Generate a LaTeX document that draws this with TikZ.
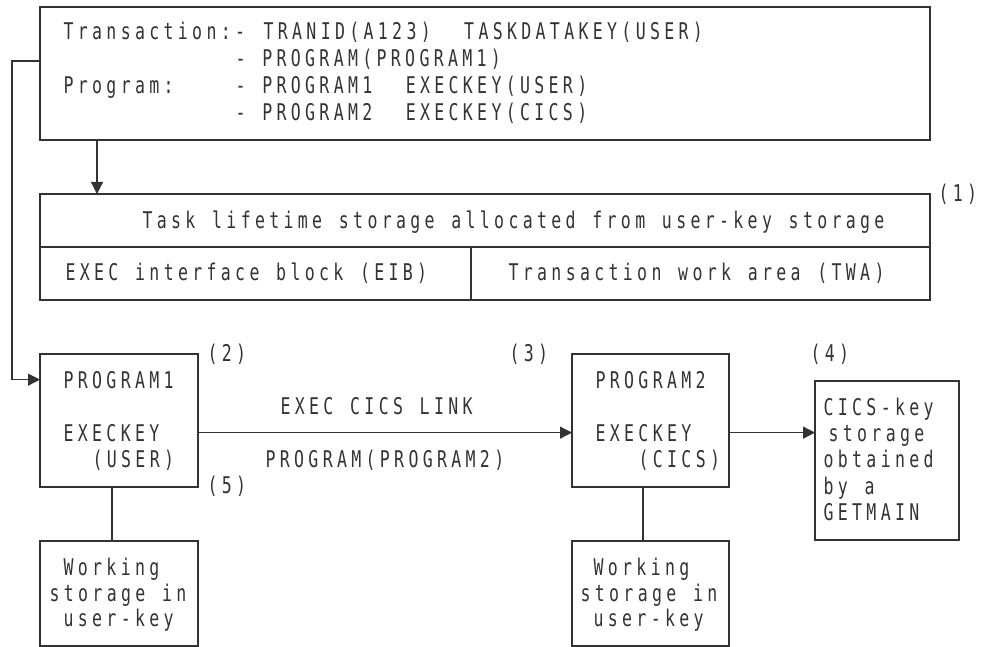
\documentclass[tikz,border=0pt]{standalone}
\usepackage{fontspec}
\usetikzlibrary{arrows.meta}
\newfontfamily\ibmfont[FakeStretch=0.72,LetterSpace=18.8,WordSpace=1.17]{DejaVu Sans Mono}
\newcommand\ibm{\ibmfont\fontsize{23pt}{26pt}\selectfont}
\tikzset{
  box/.style={draw,anchor=north west,inner sep=0pt,outer sep=0pt},
  txt/.style={anchor=base west,inner sep=0pt,font=\ibm},
}
\begin{document}
\begin{tikzpicture}[x=1pt,y=-1pt,line width=1.2pt,color=black!80,>={Triangle[length=12pt,width=12pt]}]
  \useasboundingbox (0,0) rectangle (982,647);
  % boxes
  \node[box,minimum width=890pt,minimum height=133pt] (trans) at (40,7) {};
  \node[box,minimum width=890pt,minimum height=53pt] (task) at (40,194) {};
  \node[box,minimum width=431pt,minimum height=53pt] (eib) at (40,247) {};
  \node[box,minimum width=459pt,minimum height=53pt] (twa) at (471,247) {};
  \node[box,minimum width=158pt,minimum height=133pt] (prog1) at (40,354) {};
  \node[box,minimum width=157pt,minimum height=133pt] (prog2) at (572,354) {};
  \node[box,minimum width=144pt,minimum height=159pt] (getm) at (815,381) {};
  \node[box,minimum width=158pt,minimum height=105pt] (work1) at (40,541) {};
  \node[box,minimum width=157pt,minimum height=105pt] (work2) at (572,541) {};
  % transaction definition
  \node[txt] (t1) at (63,40) {Transaction:-};
  \node[txt] (t1a) at (263,40) {TRANID(A123)~~TASKDATAKEY(USER)};
  \node[txt] (t2) at (235,67) {-~PROGRAM(PROGRAM1)};
  \node[txt] (t3) at (63,94) {Program:};
  \node[txt] (t3a) at (235,94) {-~PROGRAM1~~EXECKEY(USER)};
  \node[txt] (t4) at (235,121) {-~PROGRAM2~~EXECKEY(CICS)};
  % task storage
  \node[txt] (tasktxt) at (142,229) {Task lifetime storage allocated from user-key storage};
  \node[txt] (eibtxt) at (65,280) {EXEC interface block (EIB)};
  \node[txt] (twatxt) at (508,280) {Transaction work area (TWA)};
  \node[txt] (n1) at (938,201) {(1)};
  % programs
  \node[txt] (p1name) at (63,388) {PROGRAM1};
  \node[txt] (p1key) at (63,441) {EXECKEY};
  \node[txt] (p1user) at (92,467) {(USER)};
  \node[txt] (p2name) at (595,388) {PROGRAM2};
  \node[txt] (p2key) at (595,441) {EXECKEY};
  \node[txt] (p2cics) at (638,467) {(CICS)};
  \node[txt] (n2) at (207,361) {(2)};
  \node[txt] (n5) at (207,493) {(5)};
  \node[txt] (n3) at (509,361) {(3)};
  \node[txt] (n4) at (810,361) {(4)};
  \node[txt] (link1) at (280,414) {EXEC CICS LINK};
  \node[txt] (link2) at (265,467) {PROGRAM(PROGRAM2)};
  \path (823,415) node[txt] (g1) {CICS-key} (828,441) node[txt] (g2) {storage}
    (823,467) node[txt] (g3) {obtained} (823,494) node[txt] (g4) {by a}
    (823,520) node[txt] (g5) {GETMAIN};
  \path (63,575) node[txt] (w1a) {Working} (49,601) node[txt] (w1b) {storage in}
    (63,626) node[txt] (w1c) {user-key};
  \path (593,575) node[txt] (w2a) {Working} (580,601) node[txt] (w2b) {storage in}
    (593,626) node[txt] (w2c) {user-key};
  % connectors
  \coordinate (loop) at (12,61);
  \coordinate (drop) at (97,0);
  \coordinate (w1) at (112,0);
  \coordinate (w2) at (643,0);
  \draw[->] (trans.west |- loop) -- (loop) |- (prog1.west |- p1name);
  \draw[->] (trans.south -| drop) -- (task.north -| drop);
  \draw[->] (prog1.east |- p1key) -- (prog2.west |- p1key);
  \draw[->] (prog2.east |- p2key) -- (getm.west |- p2key);
  \draw (prog1.south -| w1) -- (work1.north -| w1);
  \draw (prog2.south -| w2) -- (work2.north -| w2);
\end{tikzpicture}
\end{document}
